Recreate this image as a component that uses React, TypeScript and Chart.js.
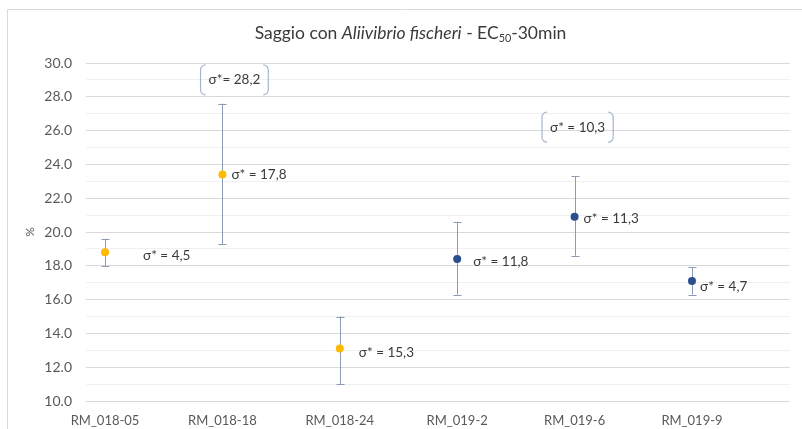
import React, { useEffect, useRef } from "react";
import { Chart, registerables } from "chart.js";

Chart.register(...registerables);

// ---- data ----
const categories = ["RM_018-05", "RM_018-18", "RM_018-24", "RM_019-2", "RM_019-6", "RM_019-9"];
const meanValues = [18.8, 23.4, 13.1, 18.4, 20.9, 17.1];
const errLow = [18.0, 19.3, 11.0, 16.3, 18.6, 16.3];
const errHigh = [19.6, 27.6, 15.0, 20.6, 23.3, 17.9];
const sigmaLabels = ["σ* = 4,5", "σ* = 17,8", "σ* = 15,3", "σ* = 11,8", "σ* = 11,3", "σ* = 4,7"];
const boxLabels = ["σ*= 28,2", "σ* = 10,3"];
const boxCategory = [1, 4];
const boxValue = [29.0, 26.2];
const group018 = [0, 1, 2];
const group019 = [3, 4, 5];

// ---- style / layout ----
const FONT = "Lato, 'Open Sans', sans-serif";
const YELLOW = "#FFB900";
const BLUE = "#2B4F8E";
const ERR = "#8A9BB8";
const TEXT = "#3a3a3a";
const TICK = "#595959";
const labelDx = [38, 9, 19, 16, 9, 8];
const labelDy = [3, 0, 4, 3, 2, 6];
const boxDx = [12, 3];

function bracketBox(ctx: CanvasRenderingContext2D, cx: number, cy: number, w: number, h: number) {
  const x0 = cx - w / 2, x1 = cx + w / 2, y0 = cy - h / 2, y1 = cy + h / 2, r = 5;
  ctx.beginPath();
  ctx.moveTo(x0 + r, y0);
  ctx.arcTo(x0, y0, x0, y0 + r, r);
  ctx.lineTo(x0, y1 - r);
  ctx.arcTo(x0, y1, x0 + r, y1, r);
  ctx.moveTo(x1 - r, y0);
  ctx.arcTo(x1, y0, x1, y0 + r, r);
  ctx.lineTo(x1, y1 - r);
  ctx.arcTo(x1, y1, x1 - r, y1, r);
  ctx.stroke();
}

const decorPlugin = {
  id: "decor",
  beforeDraw(chart: any) {
    const ctx = chart.ctx as CanvasRenderingContext2D;
    ctx.save();
    ctx.fillStyle = "#ffffff";
    ctx.fillRect(0, 0, chart.width, chart.height);
    // frame
    ctx.strokeStyle = "#d9d9d9";
    ctx.lineWidth = 1;
    ctx.beginPath();
    ctx.moveTo(7.5, chart.height);
    ctx.lineTo(7.5, 9.5);
    ctx.lineTo(chart.width, 9.5);
    ctx.stroke();
    // title with mixed styles
    const parts: [string, string, number][] = [
      ["Saggio con ", "normal", 0],
      ["Aliivibrio fischeri", "italic", 0],
      [" - EC", "normal", 0],
      ["50", "sub", 0],
      ["-30min", "normal", 0],
    ];
    const size = 17.5;
    const fontFor = (s: string) =>
      s === "italic" ? `italic ${size}px ${FONT}` : s === "sub" ? `${size * 0.62}px ${FONT}` : `${size}px ${FONT}`;
    let total = 0;
    for (const p of parts) {
      ctx.font = fontFor(p[1]);
      p[2] = ctx.measureText(p[0]).width;
      total += p[2];
    }
    let x = 410.5 - total / 2;
    const base = 39;
    ctx.fillStyle = TEXT;
    ctx.textAlign = "left";
    ctx.textBaseline = "alphabetic";
    for (const p of parts) {
      ctx.font = fontFor(p[1]);
      ctx.fillText(p[0], x, p[1] === "sub" ? base + 3 : base);
      x += p[2];
    }
    // y axis title
    ctx.translate(30, (chart.chartArea.top + chart.chartArea.bottom) / 2);
    ctx.rotate(-Math.PI / 2);
    ctx.font = `12px ${FONT}`;
    ctx.fillStyle = TICK;
    ctx.textAlign = "center";
    ctx.textBaseline = "middle";
    ctx.fillText("%", 0, 0);
    ctx.restore();
  },
  beforeDatasetsDraw(chart: any) {
    const ctx = chart.ctx as CanvasRenderingContext2D;
    const xs = chart.scales.x, ys = chart.scales.y;
    ctx.save();
    ctx.strokeStyle = ERR;
    ctx.lineWidth = 1;
    categories.forEach((_, i) => {
      const px = Math.round(xs.getPixelForValue(i)) + 0.5;
      const lo = ys.getPixelForValue(errLow[i]);
      const hi = ys.getPixelForValue(errHigh[i]);
      ctx.beginPath();
      ctx.moveTo(px, lo);
      ctx.lineTo(px, hi);
      ctx.moveTo(px - 4, Math.round(lo) + 0.5);
      ctx.lineTo(px + 4, Math.round(lo) + 0.5);
      ctx.moveTo(px - 4, Math.round(hi) + 0.5);
      ctx.lineTo(px + 4, Math.round(hi) + 0.5);
      ctx.stroke();
    });
    ctx.restore();
  },
  afterDatasetsDraw(chart: any) {
    const ctx = chart.ctx as CanvasRenderingContext2D;
    const xs = chart.scales.x, ys = chart.scales.y;
    ctx.save();
    ctx.font = `13.5px ${FONT}`;
    ctx.fillStyle = TEXT;
    ctx.textBaseline = "middle";
    ctx.textAlign = "left";
    categories.forEach((_, i) => {
      const px = xs.getPixelForValue(i);
      const py = ys.getPixelForValue(meanValues[i]);
      ctx.fillText(sigmaLabels[i], px + labelDx[i], py + labelDy[i]);
    });
    boxLabels.forEach((t, k) => {
      const cx = xs.getPixelForValue(boxCategory[k]) + boxDx[k];
      const cy = ys.getPixelForValue(boxValue[k]);
      const w = ctx.measureText(t).width + 16;
      ctx.fillStyle = TEXT;
      ctx.textAlign = "center";
      ctx.fillText(t, cx, cy);
      ctx.strokeStyle = "#A8B6CC";
      ctx.lineWidth = 1.2;
      bracketBox(ctx, cx, cy, w, 30);
    });
    ctx.restore();
  },
};

export default function App() {
  const ref = useRef<HTMLCanvasElement>(null);
  useEffect(() => {
    if (!ref.current) return;
    const chart = new Chart(ref.current, {
      type: "scatter",
      data: {
        datasets: [
          {
            label: "018",
            data: group018.map((i) => ({ x: i, y: meanValues[i] })),
            backgroundColor: YELLOW,
            borderColor: YELLOW,
            pointRadius: 4,
            pointBorderWidth: 0,
          },
          {
            label: "019",
            data: group019.map((i) => ({ x: i, y: meanValues[i] })),
            backgroundColor: BLUE,
            borderColor: BLUE,
            pointRadius: 4,
            pointBorderWidth: 0,
          },
        ],
      },
      options: {
        animation: false,
        responsive: false,
        devicePixelRatio: 1,
        layout: { padding: { top: 63, right: 12, left: 0, bottom: 0 } },
        plugins: { legend: { display: false }, title: { display: false }, tooltip: { enabled: false } },
        scales: {
          x: {
            type: "linear",
            min: -0.162,
            max: 5.835,
            grid: { display: false },
            border: { display: false },
            afterBuildTicks: (s: any) => {
              s.ticks = categories.map((_, i) => ({ value: i }));
            },
            afterFit: (s: any) => {
              s.height = 28;
            },
            ticks: {
              autoSkip: false,
              maxRotation: 0,
              padding: 4,
              color: TICK,
              font: { family: FONT, size: 13 },
              callback: (v: any) => categories[v as number] ?? "",
            },
          },
          y: {
            min: 10,
            max: 30,
            border: { display: false },
            grid: {
              drawTicks: false,
              color: (c: any) => (c.tick && c.tick.value % 2 === 0 ? "#d9d9d9" : "#f0f0f0"),
            },
            afterFit: (s: any) => {
              s.width = 86;
            },
            ticks: {
              stepSize: 1,
              padding: 14,
              autoSkip: false,
              color: TICK,
              font: { family: FONT, size: 14 },
              callback: (v: any) => ((v as number) % 2 === 0 ? (v as number).toFixed(1) : ""),
            },
          },
        },
      },
      plugins: [decorPlugin],
    } as any);
    return () => chart.destroy();
  }, []);
  return (
    <div style={{ position: "absolute", left: 0, top: 0, width: 802, height: 429 }}>
      <canvas ref={ref} width={802} height={429} style={{ width: 802, height: 429, display: "block" }} />
    </div>
  );
}
